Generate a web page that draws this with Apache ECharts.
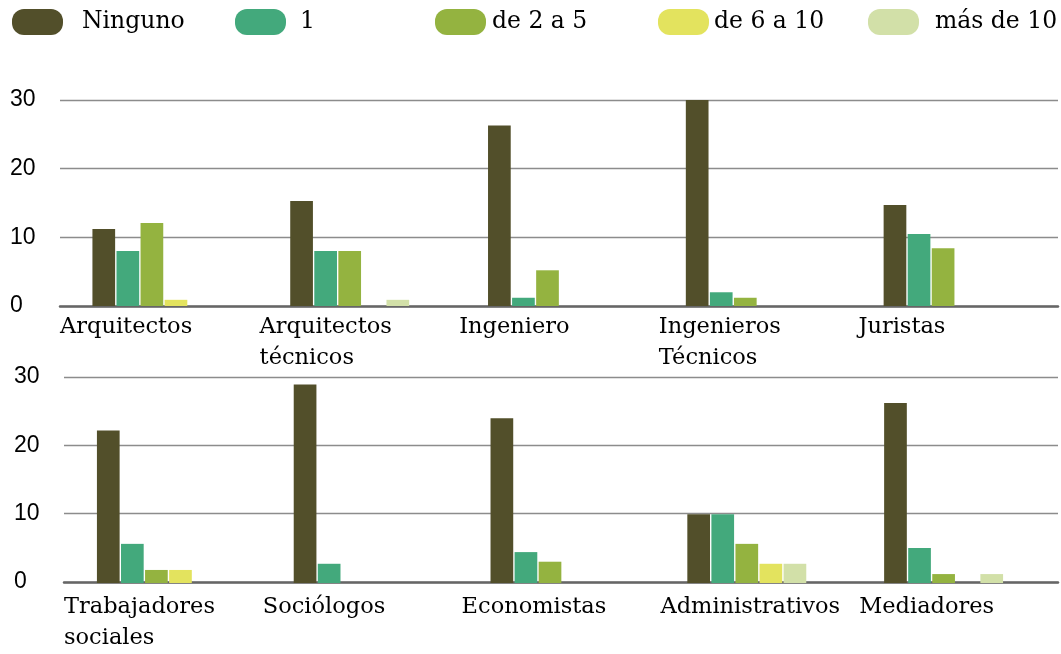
<!DOCTYPE html>
<html>
<head>
<meta charset="utf-8">
<script src="https://cdn.jsdelivr.net/npm/echarts@6/dist/echarts.min.js"></script>
<style>
  html, body { margin: 0; padding: 0; background: #fff; }
  #chart { width: 1061px; height: 654px; }
</style>
</head>
<body>
<div id="chart"></div>
<script>
// Professions, upper and lower panel
const categoriesTop = ['Arquitectos', 'Arquitectos técnicos', 'Ingeniero', 'Ingenieros Técnicos', 'Juristas'];
const categoriesBottom = ['Trabajadores sociales', 'Sociólogos', 'Economistas', 'Administrativos', 'Mediadores'];

// Label text as drawn under each panel (line breaks included)
const labelsTop = ['Arquitectos', 'Arquitectos\ntécnicos', 'Ingeniero', 'Ingenieros\nTécnicos', 'Juristas'];
const labelsBottom = ['Trabajadores\nsociales', 'Sociólogos', 'Economistas', 'Administrativos', 'Mediadores'];

const seriesNames = ['Ninguno', '1', 'de 2 a 5', 'de 6 a 10', 'más de 10'];

// Values per series, upper panel
const ningunoTop = [11.2, 15.3, 26.3, 30, 14.7];
const unoTop = [8, 8, 1.2, 2, 10.5];
const dosCincoTop = [12.1, 8, 5.2, 1.2, 8.4];
const seisDiezTop = [0.9, 0, 0, 0, 0];
const masDiezTop = [0, 0.9, 0, 0, 0];

// Values per series, lower panel
const ningunoBottom = [22.2, 28.9, 24, 10, 26.2];
const unoBottom = [5.7, 2.8, 4.5, 10, 5.1];
const dosCincoBottom = [1.9, 0, 3.1, 5.7, 1.3];
const seisDiezBottom = [1.9, 0, 0, 2.8, 0];
const masDiezBottom = [0, 0, 0, 2.8, 1.3];

const yTicks = [0, 10, 20, 30];

const colors = ['#524f2a', '#43a97c', '#94b340', '#e3e35e', '#d2e0a8'];

const topData = [ningunoTop, unoTop, dosCincoTop, seisDiezTop, masDiezTop];
const bottomData = [ningunoBottom, unoBottom, dosCincoBottom, seisDiezBottom, masDiezBottom];

const serif = '"DejaVu Serif", serif';
const sans = '"Liberation Sans", Arial, sans-serif';

// Pill-shaped legend marker
const pillIcon = 'path://M12,0 H39 A12,12 0 0 1 51,12 V14 A12,12 0 0 1 39,26 H12 A12,12 0 0 1 0,14 V12 A12,12 0 0 1 12,0 Z';

// Frame axes: grid lines, tick numbers, baseline and category labels
function frameValueAxis(gridIndex) {
  return {
    type: 'value', gridIndex: gridIndex,
    min: yTicks[0], max: yTicks[yTicks.length - 1], interval: 10,
    axisLine: { show: false }, axisTick: { show: false },
    axisLabel: {
      color: '#000', fontFamily: sans, fontSize: 23, align: 'left', margin: 50,
      padding: [0, 0, 8, 0]
    },
    splitLine: { lineStyle: { color: '#8c8c8c', width: 1.3 } }
  };
}

// Label axis: ticks on category boundaries so each label starts at its slot
function frameCategoryAxis(gridIndex, labels, margin) {
  return {
    type: 'category', gridIndex: gridIndex, boundaryGap: false, position: 'bottom',
    data: labels.concat(['']),
    axisLine: { lineStyle: { color: '#666', width: 2.5 } },
    axisTick: { show: false }, splitLine: { show: false },
    axisLabel: {
      interval: 0, align: 'left', verticalAlign: 'top', margin: margin,
      color: '#000', fontFamily: serif, fontSize: 22.5, lineHeight: 31
    }
  };
}

// Bar axes share the same value range, drawn without decoration
function barValueAxis(gridIndex) {
  return {
    type: 'value', gridIndex: gridIndex,
    min: yTicks[0], max: yTicks[yTicks.length - 1], interval: 10,
    show: false, splitLine: { show: false }
  };
}

function barCategoryAxis(gridIndex, cats) {
  return {
    type: 'category', gridIndex: gridIndex, data: cats, show: false
  };
}

const legendLefts = [12, 235, 435, 658, 868];
const legendTextPad = [14, 9, 1, 0, 11];

const legends = seriesNames.map((name, i) => ({
  data: [name], left: legendLefts[i], top: 9, padding: 0,
  itemWidth: 51, itemHeight: 26, icon: pillIcon,
  selectedMode: false,
  textStyle: { color: '#000', fontFamily: serif, fontSize: 23.5, padding: [0, 0, 4, legendTextPad[i]] }
}));

const series = [];
seriesNames.forEach((name, i) => {
  series.push({
    name: name, type: 'bar', xAxisIndex: 2, yAxisIndex: 2,
    data: topData[i], barWidth: 22.7, barGap: '6%',
    itemStyle: { color: colors[i] }
  });
});
seriesNames.forEach((name, i) => {
  series.push({
    name: name, type: 'bar', xAxisIndex: 3, yAxisIndex: 3,
    data: bottomData[i], barWidth: 22.7, barGap: '6%',
    itemStyle: { color: colors[i] }
  });
});

const chart = echarts.init(document.getElementById('chart'), null, { renderer: 'canvas' });
chart.setOption({
  backgroundColor: '#fff',
  animation: false,
  color: colors,
  legend: legends,
  grid: [
    { left: 60, right: 0, top: 100, height: 206 },
    { left: 64, right: 0, top: 377, height: 206 },
    { left: 53, right: 19, top: 100, height: 206 },
    { left: 58, right: 19, top: 377, height: 206 }
  ],
  xAxis: [
    frameCategoryAxis(0, labelsTop, 6),
    frameCategoryAxis(1, labelsBottom, 10),
    barCategoryAxis(2, categoriesTop),
    barCategoryAxis(3, categoriesBottom)
  ],
  yAxis: [frameValueAxis(0), frameValueAxis(1), barValueAxis(2), barValueAxis(3)],
  series: series
});
</script>
</body>
</html>
